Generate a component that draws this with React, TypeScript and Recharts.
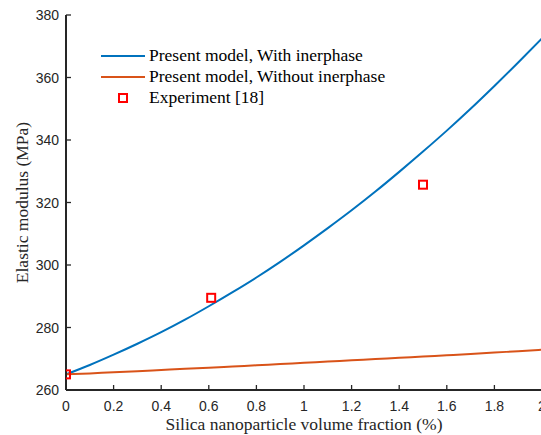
import React from "react";
import { ComposedChart, Line, Scatter, XAxis, YAxis } from "recharts";

const BLUE = "#0072BD";
const ORANGE = "#D95319";
const RED = "#FF0000";
const AXIS = "#262626";
const SANS = '"Liberation Sans", Arial, Helvetica, sans-serif';
const SERIF = '"Liberation Serif", "Times New Roman", Times, serif';

// volume fraction (%)
const FRACTION = [0, 0.1, 0.2, 0.3, 0.4, 0.5, 0.6, 0.7, 0.8, 0.9, 1.0, 1.1, 1.2, 1.3, 1.4, 1.5, 1.6, 1.7, 1.8, 1.9, 2.0];
// elastic modulus (MPa)
const WITH_INTERPHASE = [265, 268, 271.3, 274.8, 278.5, 282.5, 286.8, 291.3, 296, 301, 306.3, 311.8, 317.5, 323.5, 329.8, 336.3, 343, 350, 357.3, 364.8, 372.5];
const WITHOUT_INTERPHASE = [265, 265.3, 265.7, 266, 266.4, 266.8, 267.1, 267.5, 267.9, 268.3, 268.7, 269.1, 269.5, 269.9, 270.3, 270.7, 271.1, 271.5, 272, 272.4, 272.9];
const EXP_FRACTION = [0, 0.61, 1.5];
const EXP_MODULUS = [265, 289.5, 325.7];

const X_TICKS = [0, 0.2, 0.4, 0.6, 0.8, 1, 1.2, 1.4, 1.6, 1.8, 2];
const Y_TICKS = [260, 280, 300, 320, 340, 360, 380];

const withData = FRACTION.map((x, i) => ({ x, y: WITH_INTERPHASE[i] }));
const withoutData = FRACTION.map((x, i) => ({ x, y: WITHOUT_INTERPHASE[i] }));
const expData = EXP_FRACTION.map((x, i) => ({ x, y: EXP_MODULUS[i] }));

function BottomTick({ x, y, payload }: any) {
  return (
    <g>
      <line x1={x} x2={x} y1={y} y2={y - 5} stroke={AXIS} strokeWidth={1.3} />
      <text x={x} y={y + 21} textAnchor="middle" fontFamily={SANS} fontSize={14} fill={AXIS}>
        {payload.value}
      </text>
    </g>
  );
}

function TopTick({ x, y }: any) {
  return <line x1={x} x2={x} y1={y} y2={y + 5} stroke={AXIS} strokeWidth={1.3} />;
}

function LeftTick({ x, y, payload }: any) {
  return (
    <g>
      <line x1={x} x2={x + 5} y1={y} y2={y} stroke={AXIS} strokeWidth={1.3} />
      <text x={x - 7} y={y + 5} textAnchor="end" fontFamily={SANS} fontSize={14} fill={AXIS}>
        {payload.value}
      </text>
    </g>
  );
}

function RightTick({ x, y }: any) {
  return <line x1={x} x2={x - 5} y1={y} y2={y} stroke={AXIS} strokeWidth={1.3} />;
}

function SquareMarker({ cx, cy }: any) {
  return <rect x={cx - 4} y={cy - 4} width={8} height={8} fill="none" stroke={RED} strokeWidth={2} />;
}

function XLabel({ viewBox }: any) {
  return (
    <text
      x={viewBox.x + viewBox.width / 2}
      y={viewBox.y + 40}
      textAnchor="middle"
      fontFamily={SERIF}
      fontSize={17.5}
      fill={AXIS}
    >
      Silica nanoparticle volume fraction (%)
    </text>
  );
}

function YLabel({ viewBox }: any) {
  const cx = 28;
  const cy = viewBox.y + viewBox.height / 2;
  return (
    <text
      x={cx}
      y={cy}
      transform={`rotate(-90 ${cx} ${cy})`}
      textAnchor="middle"
      fontFamily={SERIF}
      fontSize={17.5}
      fill={AXIS}
    >
      Elastic modulus (MPa)
    </text>
  );
}

function LegendBox() {
  const row: React.CSSProperties = { display: "flex", alignItems: "center", height: 21 };
  return (
    <div
      style={{
        position: "absolute",
        left: 101,
        top: 45,
        fontFamily: SERIF,
        fontSize: 17.5,
        color: "#000",
        lineHeight: "21px",
        whiteSpace: "nowrap",
      }}
    >
      <div style={row}>
        <div style={{ width: 44, height: 2, background: BLUE, marginRight: 4 }} />
        Present model, With inerphase
      </div>
      <div style={row}>
        <div style={{ width: 44, height: 2, background: ORANGE, marginRight: 4 }} />
        Present model, Without inerphase
      </div>
      <div style={row}>
        <div style={{ width: 44, marginRight: 4, display: "flex", justifyContent: "center" }}>
          <svg width={10} height={10}>
            <rect x={1} y={1} width={8} height={8} fill="none" stroke={RED} strokeWidth={2} />
          </svg>
        </div>
        Experiment [18]
      </div>
    </div>
  );
}

export default function App() {
  return (
    <div
      style={{
        position: "absolute",
        left: 0,
        top: 0,
        width: 541,
        height: 435,
        overflow: "hidden",
        background: "#fff",
      }}
    >
      <ComposedChart width={560} height={435} margin={{ top: 15, right: 17, bottom: 0, left: 0 }}>
        <XAxis
          xAxisId="top"
          orientation="top"
          type="number"
          domain={[0, 2]}
          ticks={X_TICKS}
          height={0}
          tickSize={0}
          tickMargin={0}
          tick={<TopTick />}
          tickLine={false}
          axisLine={{ stroke: AXIS, strokeWidth: 2 }}
        />
        <XAxis
          dataKey="x"
          type="number"
          domain={[0, 2]}
          ticks={X_TICKS}
          height={45}
          tickSize={0}
          tickMargin={0}
          tick={<BottomTick />}
          tickLine={false}
          axisLine={{ stroke: AXIS, strokeWidth: 2 }}
          label={(p: any) => <XLabel {...p} />}
          allowDataOverflow
        />
        <YAxis
          type="number"
          domain={[260, 380]}
          ticks={Y_TICKS}
          width={66}
          tickSize={0}
          tickMargin={0}
          tick={<LeftTick />}
          tickLine={false}
          axisLine={{ stroke: AXIS, strokeWidth: 2 }}
          label={(p: any) => <YLabel {...p} />}
          allowDataOverflow
        />
        <YAxis
          yAxisId="right"
          orientation="right"
          type="number"
          domain={[260, 380]}
          ticks={Y_TICKS}
          width={1}
          tickSize={0}
          tickMargin={0}
          tick={<RightTick />}
          tickLine={false}
          axisLine={{ stroke: AXIS, strokeWidth: 2 }}
        />
        <Line
          data={withData}
          dataKey="y"
          type="monotone"
          stroke={BLUE}
          strokeWidth={2}
          dot={false}
          isAnimationActive={false}
        />
        <Line
          data={withoutData}
          dataKey="y"
          type="monotone"
          stroke={ORANGE}
          strokeWidth={2}
          dot={false}
          isAnimationActive={false}
        />
        <Scatter data={expData} dataKey="y" shape={<SquareMarker />} isAnimationActive={false} />
      </ComposedChart>
      <LegendBox />
    </div>
  );
}
